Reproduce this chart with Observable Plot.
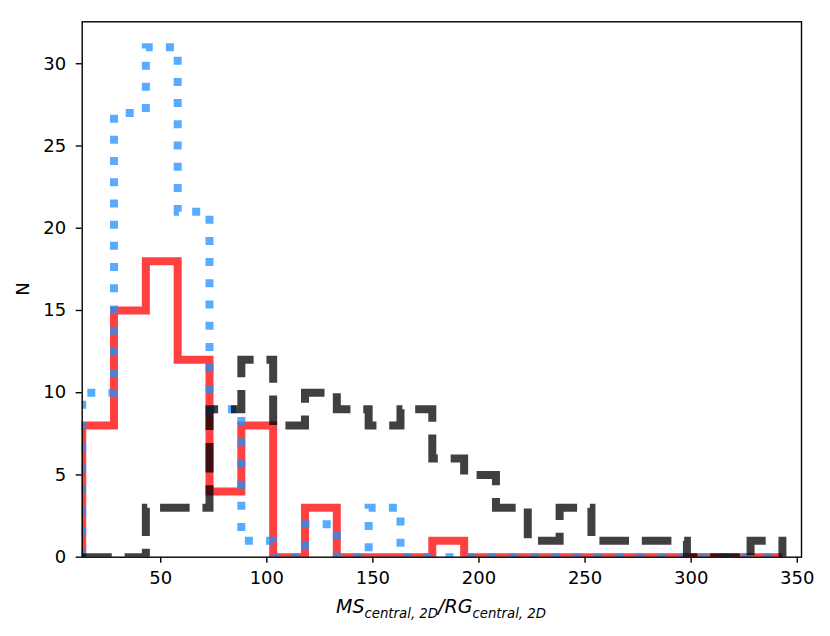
<!DOCTYPE html>
<html><head><meta charset="utf-8">
<script src="https://cdn.jsdelivr.net/npm/d3@7"></script>
<script src="https://cdn.jsdelivr.net/npm/@observablehq/plot@0.6"></script>
<style>
body{margin:0;background:#fff;}
#chart svg{font-family:"DejaVu Sans",sans-serif;}
</style>
</head><body><div id="chart"></div>
<script>
const binEdges = [13,28,43,58,73,88,103,118,133,148,163,178,193,208,223,238,253,268,283,298,313,328,343];
const redCounts   = [8,15,18,12,4,8,0,3,0,0,0,1,0,0,0,0,0,0,0,0,0,0];
const blueCounts  = [10,27,31,21,9,1,0,2,0,3,0,0,0,0,0,0,0,0,0,0,0,0];
const blackCounts = [0,0,3,3,9,12,8,10,9,8,9,6,5,3,1,3,1,1,1,0,0,1];
const xTicks = [50,100,150,200,250,300,350];
const yTicks = [0,5,10,15,20,25,30];
const xLabelParts = ["MS", "central, 2D", "/RG", "central, 2D"];
const yLabel = "N";

function stepPoints(counts) {
  const pts = [{x: binEdges[0], y: 0}];
  counts.forEach((c, i) => {
    pts.push({x: binEdges[i], y: c});
    pts.push({x: binEdges[i + 1], y: c});
  });
  pts.push({x: binEdges[counts.length], y: 0});
  return pts;
}

const LW = 8;
const common = {x: "x", y: "y", strokeOpacity: 0.75, strokeWidth: LW, strokeLinejoin: "miter", strokeLinecap: "butt", strokeMiterlimit: 10, clip: true};

const chart = Plot.plot({
  width: 830,
  height: 636,
  marginLeft: 81.7,
  marginRight: 29,
  marginTop: 21.3,
  marginBottom: 79.3,
  style: {fontSize: "18px", fontFamily: "DejaVu Sans, sans-serif", background: "#fff", color: "#000"},
  x: {domain: [13, 352], ticks: xTicks, tickSize: 6, tickPadding: 8, label: null},
  y: {domain: [0, 32.55], ticks: yTicks, tickSize: 6, tickPadding: 10, label: null},
  marks: [
    Plot.line(stepPoints(redCounts), {...common, stroke: "red"}),
    Plot.line(stepPoints(blueCounts), {...common, stroke: "dodgerblue", strokeDasharray: `${LW},${1.65 * LW}`}),
    Plot.line(stepPoints(blackCounts), {...common, stroke: "black", strokeDasharray: `${3.7 * LW},${1.6 * LW}`}),
    Plot.frame({stroke: "black", strokeWidth: 1.4})
  ]
});

document.getElementById("chart").appendChild(chart);
const svg = d3.select(chart);
svg.selectAll("[aria-label$='tick'] path, [aria-label$='tick']").attr("stroke-width", 1.4);

const xl = svg.append("text")
  .attr("x", 441).attr("y", 613)
  .attr("text-anchor", "middle")
  .attr("font-style", "italic")
  .attr("font-size", 19)
  .attr("fill", "#000");
xl.append("tspan").text(xLabelParts[0]);
xl.append("tspan").attr("font-size", 13.3).attr("dy", 5).text(xLabelParts[1]);
xl.append("tspan").attr("dy", -5).text(xLabelParts[2]);
xl.append("tspan").attr("font-size", 13.3).attr("dy", 5).text(xLabelParts[3]);

svg.append("text")
  .attr("transform", "translate(29,289) rotate(-90)")
  .attr("text-anchor", "middle")
  .attr("font-size", 18)
  .attr("fill", "#000")
  .text(yLabel);
</script>
</body></html>
